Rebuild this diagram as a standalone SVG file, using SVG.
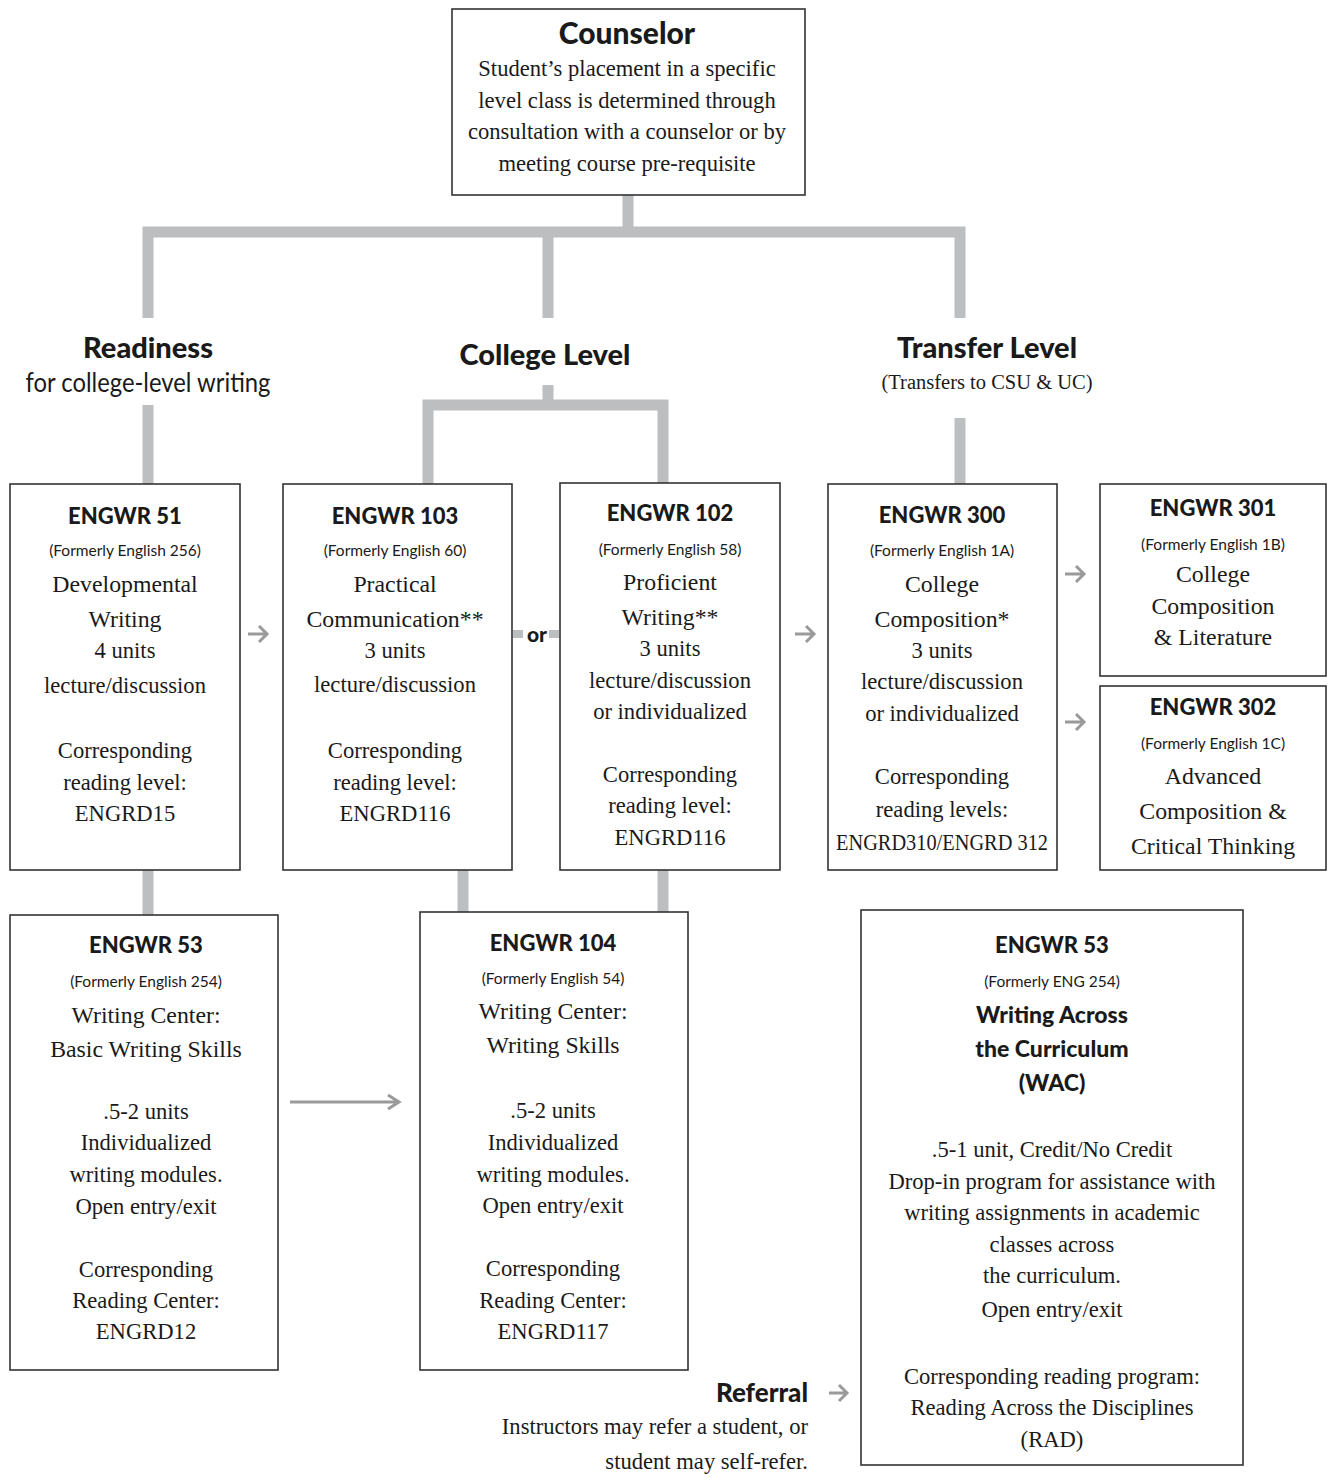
<svg xmlns="http://www.w3.org/2000/svg" width="1329" height="1478" viewBox="0 0 1329 1478">
<style>
.box{fill:#fff;stroke:#333;stroke-width:1.6}
.bar{fill:none;stroke:#bcbec0;stroke-width:11;stroke-linejoin:miter}
.arr{fill:none;stroke:#9a9a9a;stroke-width:3}
.h{font-family:Lato,"Liberation Sans",sans-serif;font-weight:900;fill:#1a1a1a;text-anchor:middle}
.s{font-family:Lato,"Liberation Sans",sans-serif;fill:#1a1a1a;text-anchor:middle;font-size:15.5px}
.t{font-family:"Liberation Serif",serif;fill:#1a1a1a;text-anchor:middle;font-size:22.6px}
.big{font-size:23.8px}
.end{text-anchor:end}
</style>
<rect width="1329" height="1478" fill="#fff"/>
<g id="connectors">
<path class="bar" d="M628 195 V232 M148 318 V232 H960 V318 M548 232 V318"/>
<path class="bar" d="M148 405 V484"/>
<path class="bar" d="M548 385 V405 M428 484 V405 H663 V484"/>
<path class="bar" d="M960 418 V484"/>
<path class="bar" d="M148 870 V915"/>
<path class="bar" d="M463 870 V912"/>
<path class="bar" d="M663 870 V912"/>
<path class="arr" d="M248 634 H267 M259 626 L267 634 L259 642"/>
<path class="arr" d="M795 634 H814 M806 626 L814 634 L806 642"/>
<path class="arr" d="M1065 574 H1084 M1076 566 L1084 574 L1076 582"/>
<path class="arr" d="M1065 722 H1084 M1076 714 L1084 722 L1076 730"/>
<path class="arr" d="M829 1393 H847 M839 1385 L847 1393 L839 1401"/>
<path class="arr" d="M290 1102 H398 M388 1095 L399 1102 L388 1109" stroke="#8c8c8c" stroke-width="2.5"/>
<rect x="513" y="630" width="10" height="8" fill="#bcbec0"/>
<rect x="549" y="630" width="10" height="8" fill="#bcbec0"/>
<text class="h" x="537" y="642" style="font-size:21px">or</text>
</g>
<g id="counselor">
<rect class="box" x="452" y="9" width="353" height="186"/>
<text class="h" x="627" y="44" style="font-size:30px">Counselor</text>
<text class="t" x="627" y="76">Student’s placement in a specific</text>
<text class="t" x="627" y="108">level class is determined through</text>
<text class="t" x="627" y="139">consultation with a counselor or by</text>
<text class="t" x="627" y="171">meeting course pre-requisite</text>
</g>
<g id="readiness">
<text class="h" x="148" y="358" style="font-size:29px">Readiness</text>
<text class="s" x="148" y="392" style="font-size:26px" textLength="245" lengthAdjust="spacingAndGlyphs">for college-level writing</text>
</g>
<g id="college-level">
<text class="h" x="545" y="365" style="font-size:29px">College Level</text>
</g>
<g id="transfer-level">
<text class="h" x="987" y="358" style="font-size:29px">Transfer Level</text>
<text class="t" x="987" y="389" style="font-size:20.5px">(Transfers to CSU &amp; UC)</text>
</g>
<g id="engwr51">
<rect class="box" x="10" y="484" width="230" height="386"/>
<text class="h" x="125" y="524" style="font-size:22px">ENGWR 51</text>
<text class="s" x="125" y="556">(Formerly English 256)</text>
<text class="t big" x="125" y="592">Developmental</text>
<text class="t big" x="125" y="627">Writing</text>
<text class="t" x="125" y="658">4 units</text>
<text class="t" x="125" y="693">lecture/discussion</text>
<text class="t" x="125" y="758">Corresponding</text>
<text class="t" x="125" y="790">reading level:</text>
<text class="t" x="125" y="821">ENGRD15</text>
</g>
<g id="engwr103">
<rect class="box" x="283" y="484" width="229" height="386"/>
<text class="h" x="395" y="524" style="font-size:22px">ENGWR 103</text>
<text class="s" x="395" y="556">(Formerly English 60)</text>
<text class="t big" x="395" y="592">Practical</text>
<text class="t big" x="395" y="627">Communication**</text>
<text class="t" x="395" y="658">3 units</text>
<text class="t" x="395" y="692">lecture/discussion</text>
<text class="t" x="395" y="758">Corresponding</text>
<text class="t" x="395" y="790">reading level:</text>
<text class="t" x="395" y="821">ENGRD116</text>
</g>
<g id="engwr102">
<rect class="box" x="560" y="483" width="220" height="387"/>
<text class="h" x="670" y="521" style="font-size:22px">ENGWR 102</text>
<text class="s" x="670" y="555">(Formerly English 58)</text>
<text class="t big" x="670" y="590">Proficient</text>
<text class="t big" x="670" y="625">Writing**</text>
<text class="t" x="670" y="656">3 units</text>
<text class="t" x="670" y="688">lecture/discussion</text>
<text class="t" x="670" y="719">or individualized</text>
<text class="t" x="670" y="782">Corresponding</text>
<text class="t" x="670" y="813">reading level:</text>
<text class="t" x="670" y="845">ENGRD116</text>
</g>
<g id="engwr300">
<rect class="box" x="828" y="484" width="229" height="386"/>
<text class="h" x="942" y="523" style="font-size:22px">ENGWR 300</text>
<text class="s" x="942" y="556">(Formerly English 1A)</text>
<text class="t big" x="942" y="592">College</text>
<text class="t big" x="942" y="627">Composition*</text>
<text class="t" x="942" y="658">3 units</text>
<text class="t" x="942" y="689">lecture/discussion</text>
<text class="t" x="942" y="721">or individualized</text>
<text class="t" x="942" y="784">Corresponding</text>
<text class="t" x="942" y="817">reading levels:</text>
<text class="t" x="942" y="850" textLength="212" lengthAdjust="spacingAndGlyphs">ENGRD310/ENGRD 312</text>
</g>
<g id="engwr301">
<rect class="box" x="1100" y="484" width="226" height="192"/>
<text class="h" x="1213" y="516" style="font-size:22px">ENGWR 301</text>
<text class="s" x="1213" y="550">(Formerly English 1B)</text>
<text class="t big" x="1213" y="582">College</text>
<text class="t big" x="1213" y="614">Composition</text>
<text class="t big" x="1213" y="645">&amp; Literature</text>
</g>
<g id="engwr302">
<rect class="box" x="1100" y="686" width="226" height="184"/>
<text class="h" x="1213" y="715" style="font-size:22px">ENGWR 302</text>
<text class="s" x="1213" y="749">(Formerly English 1C)</text>
<text class="t big" x="1213" y="784">Advanced</text>
<text class="t big" x="1213" y="819">Composition &amp;</text>
<text class="t big" x="1213" y="854">Critical Thinking</text>
</g>
<g id="engwr53-basic">
<rect class="box" x="10" y="915" width="268" height="455"/>
<text class="h" x="146" y="953" style="font-size:22px">ENGWR 53</text>
<text class="s" x="146" y="987">(Formerly English 254)</text>
<text class="t big" x="146" y="1023">Writing Center:</text>
<text class="t big" x="146" y="1057">Basic Writing Skills</text>
<text class="t" x="146" y="1119">.5-2 units</text>
<text class="t" x="146" y="1150">Individualized</text>
<text class="t" x="146" y="1182">writing modules.</text>
<text class="t" x="146" y="1214">Open entry/exit</text>
<text class="t" x="146" y="1277">Corresponding</text>
<text class="t" x="146" y="1308">Reading Center:</text>
<text class="t" x="146" y="1339">ENGRD12</text>
</g>
<g id="engwr104">
<rect class="box" x="420" y="912" width="268" height="458"/>
<text class="h" x="553" y="951" style="font-size:22px">ENGWR 104</text>
<text class="s" x="553" y="984">(Formerly English 54)</text>
<text class="t big" x="553" y="1019">Writing Center:</text>
<text class="t big" x="553" y="1053">Writing Skills</text>
<text class="t" x="553" y="1118">.5-2 units</text>
<text class="t" x="553" y="1150">Individualized</text>
<text class="t" x="553" y="1182">writing modules.</text>
<text class="t" x="553" y="1213">Open entry/exit</text>
<text class="t" x="553" y="1276">Corresponding</text>
<text class="t" x="553" y="1308">Reading Center:</text>
<text class="t" x="553" y="1339">ENGRD117</text>
</g>
<g id="engwr53-wac">
<rect class="box" x="861" y="910" width="382" height="555"/>
<text class="h" x="1052" y="953" style="font-size:22px">ENGWR 53</text>
<text class="s" x="1052" y="987">(Formerly ENG 254)</text>
<text class="h" x="1052" y="1023" style="font-size:23px">Writing Across</text>
<text class="h" x="1052" y="1057" style="font-size:23px">the Curriculum</text>
<text class="h" x="1052" y="1091" style="font-size:23px">(WAC)</text>
<text class="t" x="1052" y="1157">.5-1 unit, Credit/No Credit</text>
<text class="t" x="1052" y="1189" textLength="327" lengthAdjust="spacingAndGlyphs">Drop-in program for assistance with</text>
<text class="t" x="1052" y="1220">writing assignments in academic</text>
<text class="t" x="1052" y="1252">classes across</text>
<text class="t" x="1052" y="1283">the curriculum.</text>
<text class="t" x="1052" y="1317">Open entry/exit</text>
<text class="t" x="1052" y="1384">Corresponding reading program:</text>
<text class="t" x="1052" y="1415">Reading Across the Disciplines</text>
<text class="t" x="1052" y="1447">(RAD)</text>
</g>
<g id="referral">
<text class="h end" x="808" y="1402" style="font-size:26px;text-anchor:end">Referral</text>
<text class="t end" x="808" y="1434">Instructors may refer a student, or</text>
<text class="t end" x="808" y="1469">student may self-refer.</text>
</g>
</svg>
